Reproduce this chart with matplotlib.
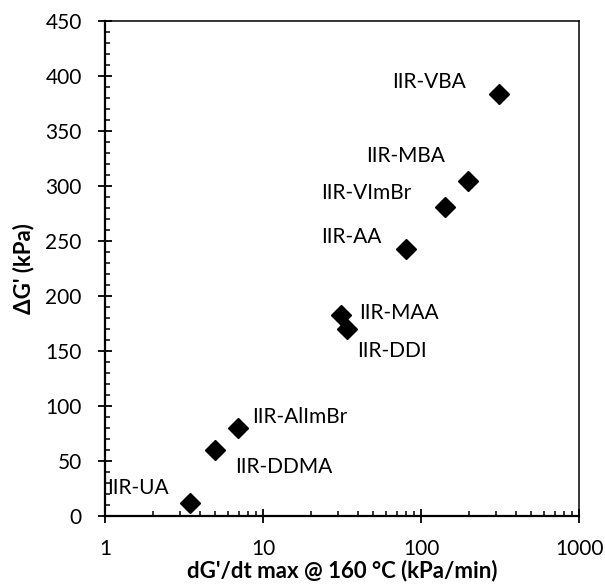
import matplotlib
matplotlib.use('Agg')
import matplotlib.pyplot as plt
from matplotlib.ticker import MultipleLocator, LogLocator, NullFormatter, FixedLocator

plt.rcParams['font.family'] = ['Lato', 'DejaVu Sans']

# data
amostras = ['IIR-VBA', 'IIR-MBA', 'IIR-VImBr', 'IIR-AA', 'IIR-MAA',
            'IIR-DDI', 'IIR-AlImBr', 'IIR-DDMA', 'IIR-UA']
taxa_max = [312, 198, 142, 80, 31, 34, 6.95, 4.97, 3.45]
delta_g = [383.5, 305, 281, 242.5, 183, 170, 80, 60, 11.8]

# label offsets (points) from each marker
offsets = [(-77, 9), (-73, 18), (-89, 10), (-61, 8.5), (13.5, 1.5),
           (7, -16), (10, 8), (14.5, -12), (-60, 11)]

fig = plt.figure(figsize=(6.05, 5.88), dpi=100)
ax = fig.add_axes([0.1736, 0.1224, 0.7835, 0.8419])

ax.plot(taxa_max, delta_g, linestyle='none', marker='D', markersize=10,
        color='black')

for nome, x, y, off in zip(amostras, taxa_max, delta_g, offsets):
    ax.annotate(nome, (x, y), xytext=off, textcoords='offset points',
                ha='left', va='center', fontsize=15)

ax.set_xscale('log')
ax.set_xlim(1, 1000)
ax.set_ylim(0, 450)
ax.yaxis.set_major_locator(MultipleLocator(50))
ax.yaxis.set_minor_locator(MultipleLocator(10))
ax.xaxis.set_major_locator(FixedLocator([1, 10, 100, 1000]))
ax.xaxis.set_minor_locator(LogLocator(base=10, subs=range(2, 10)))
ax.xaxis.set_minor_formatter(NullFormatter())
ax.set_xticklabels(['1', '10', '100', '1000'])

ax.tick_params(which='major', direction='inout', length=10.5, width=1.3,
               labelsize=15, pad=11.5, colors='black')
ax.tick_params(axis='x', which='major', pad=11)
ax.tick_params(which='minor', direction='in', length=3.8, width=1.1)

for s in ax.spines.values():
    s.set_linewidth(1.1)
ax.spines['left'].set_linewidth(1.6)
ax.spines['bottom'].set_linewidth(1.6)

ax.set_xlabel("dG'/dt max @ 160 °C (kPa/min)", fontsize=16, fontweight='bold',
              labelpad=1)
ax.set_ylabel("ΔG' (kPa)", fontsize=16, fontweight='bold', labelpad=8)

fig.savefig('out.png', dpi=100)
